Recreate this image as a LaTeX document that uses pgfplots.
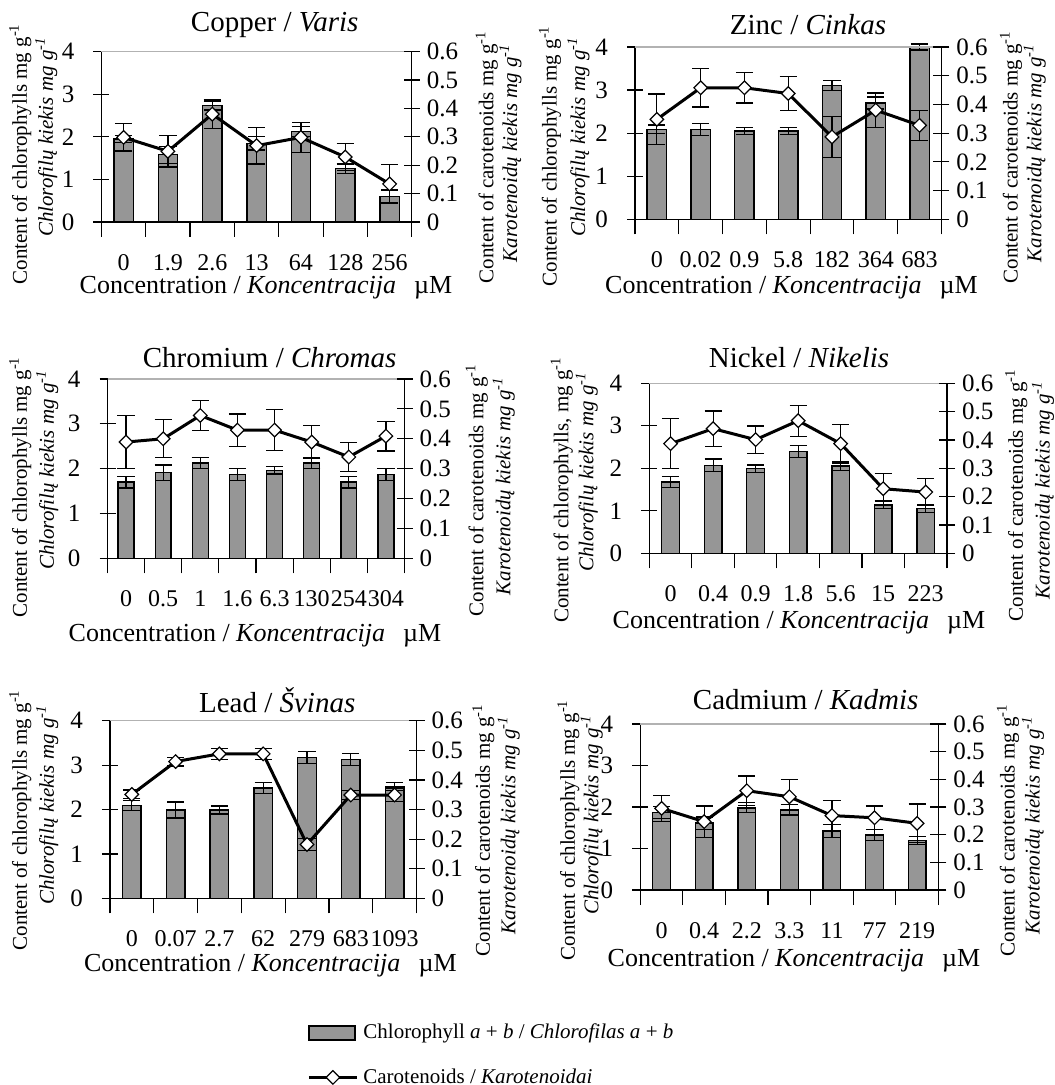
\documentclass[border=0pt]{standalone}
\usepackage{fontspec}
\setmainfont{Liberation Serif}
\usepackage{pgfplots}
\usepackage{pgfplotstable}
\pgfplotsset{compat=1.18}
\definecolor{barg}{RGB}{150,150,150}

\pgfplotstableread{
x chl chle car care
0 1.95 0.08 0.298 0.048
1 1.58 0.20 0.249 0.055
2 2.73 0.10 0.380 0.050
3 1.85 0.16 0.269 0.065
4 2.13 0.12 0.298 0.052
5 1.25 0.11 0.229 0.047
6 0.60 0.15 0.134 0.068
}\tcu
\pgfplotstableread{
x chl chle car care
0 2.09 0.10 0.348 0.088
1 2.09 0.14 0.458 0.067
2 2.05 0.09 0.458 0.053
3 2.05 0.09 0.438 0.060
4 3.11 0.12 0.287 0.072
5 2.70 0.14 0.380 0.060
6 4.00 0.07 0.327 0.053
}\tzn
\pgfplotstableread{
x chl chle car care
0 1.70 0.13 0.389 0.089
1 1.91 0.17 0.400 0.064
2 2.13 0.12 0.478 0.051
3 1.87 0.14 0.429 0.054
4 1.96 0.08 0.429 0.069
5 2.13 0.12 0.389 0.055
6 1.70 0.13 0.339 0.048
7 1.87 0.14 0.409 0.050
}\tcr
\pgfplotstableread{
x chl chle car care
0 1.68 0.13 0.387 0.089
1 2.07 0.15 0.440 0.062
2 1.99 0.09 0.401 0.048
3 2.40 0.14 0.468 0.055
4 2.05 0.10 0.387 0.068
5 1.14 0.09 0.228 0.055
6 1.05 0.09 0.216 0.047
}\tni
\pgfplotstableread{
x chl chle car care
0 2.09 0.12 0.351 0.015
1 1.99 0.18 0.462 0.015
2 1.99 0.09 0.488 0.018
3 2.48 0.12 0.488 0.018
4 3.17 0.13 0.182 0.020
5 3.13 0.13 0.349 0.015
6 2.51 0.09 0.349 0.022
}\tpb
\pgfplotstableread{
x chl chle car care
0 1.87 0.14 0.295 0.048
1 1.61 0.15 0.247 0.057
2 1.98 0.12 0.359 0.053
3 1.93 0.14 0.337 0.063
4 1.42 0.15 0.269 0.054
5 1.33 0.13 0.261 0.043
6 1.19 0.10 0.241 0.070
}\tcd

\pgfplotsset{
  chlax/.style={
    scale only axis, axis lines*=left,
    axis line style={black, line width=0.6pt},
    ymin=0, ymax=4, ytick={0,1,2,3,4},
    tick align=center, major tick length=8pt,
    major x tick style={draw=none},
    minor tick length=7.5pt,
    minor x tick style={black, line width=0.6pt},
    ytick style={black, line width=0.6pt},
    xtick={0,1,2,3,4,5,6,7}, minor xtick={-0.5,0.5,1.5,2.5,3.5,4.5,5.5,6.5,7.5},
    xticklabel style={font=\fontsize{12}{14}\selectfont, yshift=-4.8pt},
    yticklabel style={font=\fontsize{12.5}{14}\selectfont, xshift=-6pt},
    /pgf/number format/assume math mode=true,
    ybar, clip=false,
  },
  carax/.style={
    scale only axis, axis x line=none, axis y line*=right,
    axis line style={black, line width=0.6pt},
    ymin=0, ymax=0.6, ytick={0,0.1,0.2,0.3,0.4,0.5,0.6},
    tick align=center, major tick length=8pt,
    ytick style={black, line width=0.6pt},
    yticklabel style={font=\fontsize{12.5}{14}\selectfont, xshift=0pt,
      /pgf/number format/fixed, /pgf/number format/precision=1},
    /pgf/number format/assume math mode=true,
    clip=false,
  },
  barplot/.style={fill=barg, draw=black, line width=0.7pt,
    error bars/.cd, y dir=both, y explicit,
    error bar style={black, line width=0.6pt},
    error mark options={rotate=90, black, mark size=4.3pt, line width=0.6pt}},
  carplot/.style={black, line width=1.5pt, mark=square*, mark size=2.4pt,
    mark options={rotate=45, fill=white, draw=black, line width=0.6pt, solid},
    error bars/.cd, y dir=both, y explicit,
    error bar style={black, line width=0.6pt},
    error mark options={rotate=90, black, mark size=4.3pt, line width=0.6pt}},
  barlegend/.style={legend image code/.code={
    \draw[fill=barg, draw=black, line width=0.8pt] (0pt,-3.5pt) rectangle (23pt,3.5pt);}},
  carlegend/.style={legend image code/.code={
    \draw[mark repeat=2, mark phase=2, ##1] plot coordinates {(0pt,0pt) (12pt,0pt) (24pt,0pt)};}},
}

\newcommand{\tfont}{\fontsize{14.5}{16}\selectfont}
\newcommand{\xfont}{\fontsize{13}{15}\selectfont}
\newcommand{\lfont}{\fontsize{10.5}{12}\selectfont}
\newcommand{\xlab}{Concentration / \textit{Koncentracija}\hspace{0.7em}µM}

\begin{document}
\begin{tikzpicture}[x=0.5pt, y=-0.5pt]
\path[use as bounding box] (0,0) rectangle (1054,1085);

% ---------- Copper ----------
\begin{axis}[chlax, at={(50.7pt,-111pt)}, anchor=south west, width=155.2pt, height=85.15pt,
  xmin=-0.5, xmax=6.5, xticklabels={0,1.9,2.6,13,64,128,256}, bar width=9.65pt]
\addplot[barplot] table[x=x, y=chl, y error=chle] {\tcu};
\draw[gray!60, line width=0.6pt] (rel axis cs:0,1) -- (rel axis cs:1,1);
\end{axis}
\begin{axis}[carax, at={(50.7pt,-111pt)}, anchor=south west, width=155.2pt, height=85.15pt,
  xmin=-0.5, xmax=6.5]
\addplot[carplot] table[x=x, y=car, y error=care] {\tcu};
\end{axis}
\node[font=\tfont] at (274.7,25) {Copper / \textit{Varis}};
\node[font=\xfont] at (266,288) {\xlab};
\node[font=\lfont, rotate=90] at (20.3,154) {Content of chlorophylls mg g\textsuperscript{-1}};
\node[font=\lfont\itshape, rotate=90] at (46.3,137) {Chlorofilų kiekis mg g\textsuperscript{-1}};
\node[font=\lfont, rotate=90] at (486.8,157) {Content of carotenoids mg g\textsuperscript{-1}};
\node[font=\lfont\itshape, rotate=90] at (510.5,153) {Karotenoidų kiekis mg g\textsuperscript{-1}};

% ---------- Zinc ----------
\begin{axis}[chlax, at={(317.5pt,-109.65pt)}, anchor=south west, width=153.2pt, height=86.15pt,
  xmin=-0.5, xmax=6.5, xticklabels={0,0.02,0.9,5.8,182,364,683}, bar width=9.7pt]
\addplot[barplot] table[x=x, y=chl, y error=chle] {\tzn};
\draw[gray!60, line width=0.6pt] (rel axis cs:0,1) -- (rel axis cs:1,1);
\end{axis}
\begin{axis}[carax, at={(317.5pt,-109.65pt)}, anchor=south west, width=153.2pt, height=86.15pt,
  xmin=-0.5, xmax=6.5]
\addplot[carplot] table[x=x, y=car, y error=care] {\tzn};
\end{axis}
\node[font=\tfont] at (808,25) {Zinc / \textit{Cinkas}};
\node[font=\xfont] at (791.5,288) {\xlab};
\node[font=\lfont, rotate=90] at (550,156) {Content of chlorophylls mg g\textsuperscript{-1}};
\node[font=\lfont\itshape, rotate=90] at (578.5,137) {Chlorofilų kiekis mg g\textsuperscript{-1}};
\node[font=\lfont, rotate=90] at (1011,157) {Content of carotenoids mg g\textsuperscript{-1}};
\node[font=\lfont\itshape, rotate=90] at (1034.7,153) {Karotenoidų kiekis mg g\textsuperscript{-1}};

% ---------- Chromium ----------
\begin{axis}[chlax, at={(53.75pt,-279.15pt)}, anchor=south west, width=148.5pt, height=89.65pt,
  xmin=-0.5, xmax=7.5, xticklabels={0,0.5,1,1.6,6.3,130,254,304}, bar width=7.95pt]
\addplot[barplot] table[x=x, y=chl, y error=chle] {\tcr};
\draw[gray!60, line width=0.6pt] (rel axis cs:0,1) -- (rel axis cs:1,1);
\end{axis}
\begin{axis}[carax, at={(53.75pt,-279.15pt)}, anchor=south west, width=148.5pt, height=89.65pt,
  xmin=-0.5, xmax=7.5]
\addplot[carplot] table[x=x, y=car, y error=care] {\tcr};
\end{axis}
\node[font=\tfont] at (269.6,358) {Chromium / \textit{Chromas}};
\node[font=\xfont] at (255,636) {\xlab};
\node[font=\lfont, rotate=90] at (20.3,487) {Content of chlorophylls mg g\textsuperscript{-1}};
\node[font=\lfont\itshape, rotate=90] at (47.3,470) {Chlorofilų kiekis mg g\textsuperscript{-1}};
\node[font=\lfont, rotate=90] at (476.7,490) {Content of carotenoids mg g\textsuperscript{-1}};
\node[font=\lfont\itshape, rotate=90] at (503.7,486) {Karotenoidų kiekis mg g\textsuperscript{-1}};

% ---------- Nickel ----------
\begin{axis}[chlax, at={(324.65pt,-276.65pt)}, anchor=south west, width=148.85pt, height=85pt,
  xmin=-0.5, xmax=6.5, xticklabels={0,0.4,0.9,1.8,5.6,15,223}, bar width=8.85pt]
\addplot[barplot] table[x=x, y=chl, y error=chle] {\tni};
\draw[gray!60, line width=0.6pt] (rel axis cs:0,1) -- (rel axis cs:1,1);
\end{axis}
\begin{axis}[carax, at={(324.65pt,-276.65pt)}, anchor=south west, width=148.85pt, height=85pt,
  xmin=-0.5, xmax=6.5]
\addplot[carplot] table[x=x, y=car, y error=care] {\tni};
\end{axis}
\node[font=\tfont] at (799,358) {Nickel / \textit{Nikelis}};
\node[font=\xfont] at (799,623) {\xlab};
\node[font=\lfont, rotate=90] at (561.8,490) {Content of chlorophylls, mg g\textsuperscript{-1}};
\node[font=\lfont\itshape, rotate=90] at (586.8,472) {Chlorofilų kiekis mg g\textsuperscript{-1}};
\node[font=\lfont, rotate=90] at (1016.3,495) {Content of carotenoids mg g\textsuperscript{-1}};
\node[font=\lfont\itshape, rotate=90] at (1043,490) {Karotenoidų kiekis mg g\textsuperscript{-1}};

% ---------- Lead ----------
\begin{axis}[chlax, at={(54.95pt,-449.15pt)}, anchor=south west, width=153.3pt, height=88.8pt,
  xmin=-0.5, xmax=6.5, xticklabels={0,0.07,2.7,62,279,683,1093}, bar width=9.3pt]
\addplot[barplot] table[x=x, y=chl, y error=chle] {\tpb};
\draw[gray!60, line width=0.6pt] (rel axis cs:0,1) -- (rel axis cs:1,1);
\end{axis}
\begin{axis}[carax, at={(54.95pt,-449.15pt)}, anchor=south west, width=153.3pt, height=88.8pt,
  xmin=-0.5, xmax=6.5]
\addplot[carplot] table[x=x, y=car, y error=care] {\tpb};
\end{axis}
\node[font=\tfont] at (277.2,700) {Lead / \textit{Švinas}};
\node[font=\xfont] at (270.4,966) {\xlab};
\node[font=\lfont, rotate=90] at (20.3,820) {Content of chlorophylls mg g\textsuperscript{-1}};
\node[font=\lfont\itshape, rotate=90] at (47.3,805) {Chlorofilų kiekis mg g\textsuperscript{-1}};
\node[font=\lfont, rotate=90] at (483.4,830) {Content of carotenoids mg g\textsuperscript{-1}};
\node[font=\lfont\itshape, rotate=90] at (508.8,825) {Karotenoidų kiekis mg g\textsuperscript{-1}};

% ---------- Cadmium ----------
\begin{axis}[chlax, at={(320.15pt,-445pt)}, anchor=south west, width=149.05pt, height=83pt,
  xmin=-0.5, xmax=6.5, xticklabels={0,0.4,2.2,3.3,11,77,219}, bar width=8.85pt]
\addplot[barplot] table[x=x, y=chl, y error=chle] {\tcd};
\draw[gray!60, line width=0.6pt] (rel axis cs:0,1) -- (rel axis cs:1,1);
\end{axis}
\begin{axis}[carax, at={(320.15pt,-445pt)}, anchor=south west, width=149.05pt, height=83pt,
  xmin=-0.5, xmax=6.5]
\addplot[carplot] table[x=x, y=car, y error=care] {\tcd};
\end{axis}
\node[font=\tfont] at (805.7,700) {Cadmium / \textit{Kadmis}};
\node[font=\xfont] at (794,961) {\xlab};
\node[font=\lfont, rotate=90] at (568.4,830) {Content of chlorophylls mg g\textsuperscript{-1}};
\node[font=\lfont\itshape, rotate=90] at (591.8,815) {Chlorofilų kiekis mg g\textsuperscript{-1}};
\node[font=\lfont, rotate=90] at (1008,830) {Content of carotenoids mg g\textsuperscript{-1}};
\node[font=\lfont\itshape, rotate=90] at (1033,825) {Karotenoidų kiekis mg g\textsuperscript{-1}};

% ---------- Legend ----------
\begin{axis}[hide axis, scale only axis, width=1pt, height=1pt,
  xmin=0, xmax=1, ymin=0, ymax=1, at={(153.5pt,-527.5pt)}, anchor=west,
  legend cell align=left,
  legend style={at={(0,0.5)}, anchor=west, draw=none, fill=none, inner sep=0pt,
    row sep=9.5pt, column sep=0.5pt, font=\fontsize{10.5}{12}\selectfont}]
\addlegendimage{barlegend}
\addlegendentry{Chlorophyll \textit{a} + \textit{b} / \textit{Chlorofilas a} + \textit{b}}
\addlegendimage{carlegend, black, line width=1.5pt, mark=square*, mark size=2.4pt,
  mark options={rotate=45, fill=white, draw=black, line width=0.6pt}}
\addlegendentry{Carotenoids / \textit{Karotenoidai}}
\end{axis}
\end{tikzpicture}
\end{document}
